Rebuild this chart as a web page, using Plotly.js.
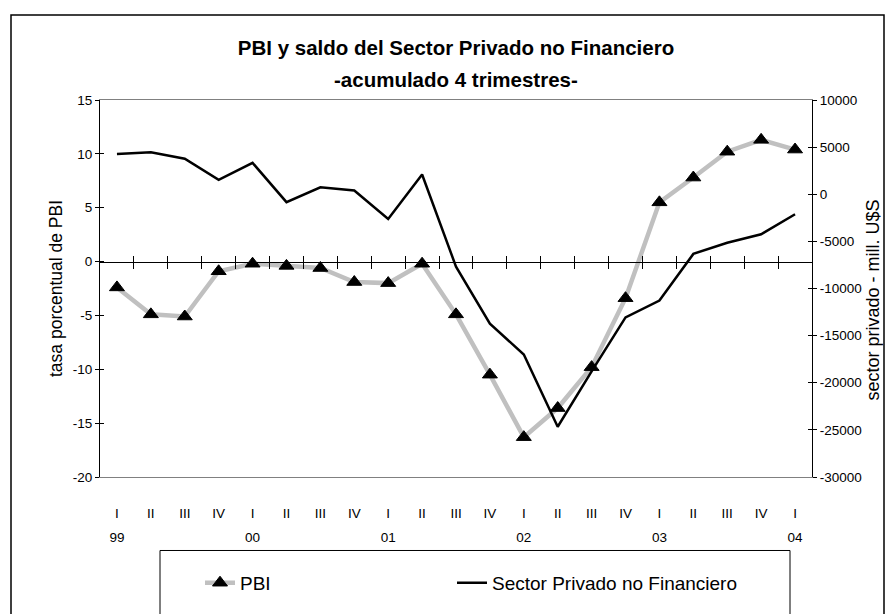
<!DOCTYPE html>
<html><head><meta charset="utf-8">
<script src="https://cdn.plot.ly/plotly-3.0.1.min.js"></script>
<style>html,body{margin:0;padding:0;background:#fff}#chart{width:886px;height:614px}</style>
</head><body><div id="chart"></div>
<script>
const quarters = ['I','II','III','IV','I','II','III','IV','I','II','III','IV','I','II','III','IV','I','II','III','IV','I'];
const years = ['99','','','','00','','','','01','','','','02','','','','03','','','','04'];
const pbi = [-2.4,-4.9,-5.1,-0.9,-0.2,-0.4,-0.6,-1.9,-2.0,-0.2,-4.9,-10.5,-16.3,-13.6,-9.8,-3.4,5.5,7.8,10.2,11.3,10.4];
const sector = [4270,4450,3770,1520,3330,-840,740,400,-2630,2090,-7680,-13740,-17000,-24670,-18800,-13060,-11280,-6330,-5150,-4240,-2120];
const leftTicks = [15, 10, 5, 0, -5, -10, -15, -20];
const rightTicks = [10000, 5000, 0, -5000, -10000, -15000, -20000, -25000, -30000];
const leftRange = [-20, 15];
const rightRange = [-30000, 10000];

const idx = quarters.map((q, i) => i);
const bounds = idx.slice(0, -1).map(i => i + 0.5);
const font = 'Liberation Sans, Arial, sans-serif';
const W = 886, H = 614, mL = 100, mR = 74, mT = 100, mB = 119;
const pw = W - mL - mR, ph = H - mT - mB;
const px = x => (x - mL) / pw;
const py = y => (H - mB - y) / ph;
const zeroPos = (0 - leftRange[0]) / (leftRange[1] - leftRange[0]);
const lbl = v => String(v);  // plain hyphen minus

const hidden = (xa, ya, yv) => ({x: idx, y: yv, xaxis: xa, yaxis: ya, type: 'scatter', mode: 'none',
                                 showlegend: false, hoverinfo: 'skip'});
const traces = [
  hidden('x2', 'y', pbi), hidden('x3', 'y', pbi), hidden('x4', 'y', pbi),
  hidden('x', 'y3', pbi), hidden('x', 'y4', sector),
  {x: idx, y: pbi, name: 'PBI', type: 'scatter', mode: 'lines+markers', xaxis: 'x', yaxis: 'y', legend: 'legend',
   line: {color: '#c0c0c0', width: 4.5}, marker: {symbol: 'triangle-up', size: 13, color: '#000', line: {color: '#000', width: 1}}},
  {x: idx, y: sector, name: 'Sector Privado no Financiero', type: 'scatter', mode: 'lines', xaxis: 'x', yaxis: 'y2', legend: 'legend2',
   line: {color: '#000', width: 2.5}}
];

const xr = [-0.5, quarters.length - 0.5];
const tf = {family: font, size: 13.5, color: '#000'};
const lf = {family: font, size: 19, color: '#000'};
const legBase = {orientation: 'h', xanchor: 'left', y: py(586), yanchor: 'top', bgcolor: 'rgba(0,0,0,0)',
                 borderwidth: 0, font: lf, itemwidth: 30};
const layout = {
  width: W, height: H,
  margin: {l: mL, r: mR, t: mT, b: mB},
  paper_bgcolor: '#fff', plot_bgcolor: '#fff',
  font: {family: font, size: 14, color: '#000'},
  showlegend: true,
  title: {text: '<b>PBI y saldo del Sector Privado no Financiero</b>',
          font: {family: font, size: 20.5, color: '#000'}, x: 0.5, xref: 'paper', y: 1 - 48 / H, yref: 'container', yanchor: 'middle'},
  annotations: [
    {text: '<b>-acumulado 4 trimestres-</b>', xref: 'paper', yref: 'paper', x: 0.5, y: py(78), xanchor: 'center', yanchor: 'middle',
     showarrow: false, font: {family: font, size: 20.5, color: '#000'}},
    {text: 'sector privado - mill. U$S', xref: 'paper', yref: 'paper', x: px(873), y: py(310), xanchor: 'center', yanchor: 'middle',
     textangle: -90, showarrow: false, font: {family: font, size: 18, color: '#000'}}
  ],
  xaxis: {range: xr, tickmode: 'array', tickvals: idx, ticktext: quarters, ticks: '', showgrid: false, zeroline: false,
          showline: true, linecolor: '#808080', linewidth: 1, mirror: true, ticklabelstandoff: 24, tickfont: tf},
  xaxis2: {range: xr, overlaying: 'x', anchor: 'y', side: 'bottom', tickmode: 'array', tickvals: idx, ticktext: years,
           ticks: '', showgrid: false, zeroline: false, showline: false, ticklabelstandoff: 50, tickfont: tf},
  xaxis3: {range: xr, overlaying: 'x', anchor: 'free', position: zeroPos, tickmode: 'array', tickvals: bounds,
           ticks: 'outside', ticklen: 6, tickcolor: '#000', tickwidth: 1, showticklabels: false, showgrid: false, zeroline: false,
           showline: true, linecolor: '#000', linewidth: 1},
  xaxis4: {range: xr, overlaying: 'x', anchor: 'free', position: zeroPos, tickmode: 'array', tickvals: bounds,
           ticks: 'inside', ticklen: 6, tickcolor: '#000', tickwidth: 1, showticklabels: false, showgrid: false, zeroline: false,
           showline: false},
  yaxis: {range: leftRange, tickmode: 'array', tickvals: leftTicks, ticktext: leftTicks.map(lbl), ticks: 'outside', ticklen: 4,
          tickcolor: '#000', showgrid: false, zeroline: false, showline: true, linecolor: '#000', linewidth: 1, tickfont: tf,
          title: {text: 'tasa porcentual de PBI', font: {family: font, size: 17.5, color: '#000'}, standoff: 5}},
  yaxis2: {range: rightRange, tickmode: 'array', tickvals: rightTicks, ticktext: rightTicks.map(lbl), overlaying: 'y', side: 'right',
           anchor: 'x', ticks: 'outside', ticklen: 4, tickcolor: '#000', showgrid: false, zeroline: false, showline: true,
           linecolor: '#000', linewidth: 1, tickfont: tf},
  yaxis3: {range: leftRange, tickmode: 'array', tickvals: leftTicks, overlaying: 'y', side: 'left', anchor: 'x', ticks: 'inside',
           ticklen: 4, tickcolor: '#000', showticklabels: false, showgrid: false, zeroline: false, showline: false},
  yaxis4: {range: rightRange, tickmode: 'array', tickvals: rightTicks, overlaying: 'y', side: 'right', anchor: 'x', ticks: 'inside',
           ticklen: 4, tickcolor: '#000', showticklabels: false, showgrid: false, zeroline: false, showline: false},
  legend: Object.assign({}, legBase, {x: px(200)}),
  legend2: Object.assign({}, legBase, {x: px(452)}),
  shapes: [
    {type: 'rect', xref: 'paper', yref: 'paper', x0: px(11), x1: px(884), y0: py(640), y1: py(11),
     line: {color: '#000', width: 1.5}, fillcolor: 'rgba(0,0,0,0)', layer: 'below'},
    {type: 'rect', xref: 'paper', yref: 'paper', x0: px(160), x1: px(790), y0: py(640), y1: py(572),
     line: {color: '#000', width: 1}, fillcolor: 'rgba(0,0,0,0)', layer: 'below'}
  ]
};
Plotly.newPlot('chart', traces, layout, {displayModeBar: false, staticPlot: true});
</script></body></html>
